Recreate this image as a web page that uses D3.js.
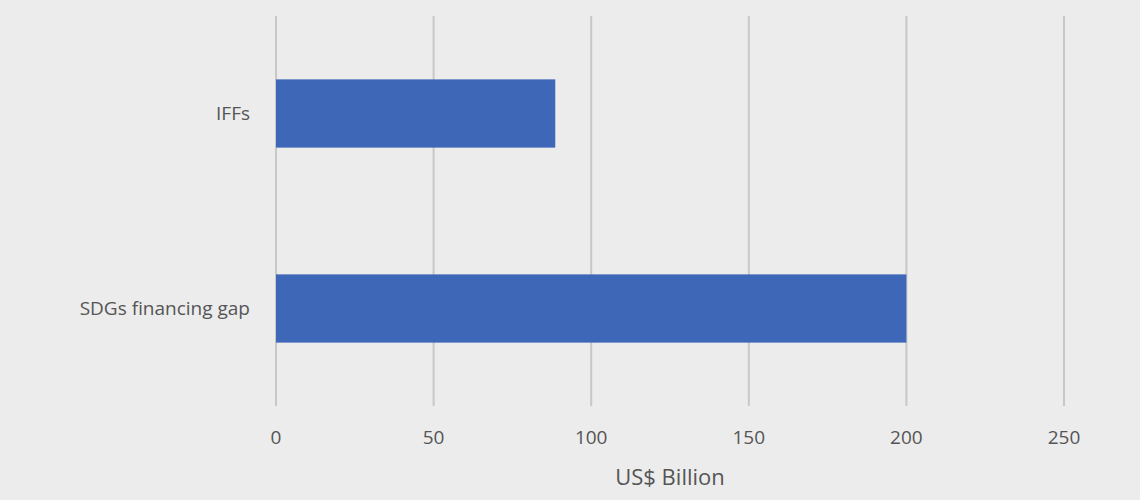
<!DOCTYPE html>
<html><head><meta charset="utf-8">
<script src="https://cdn.jsdelivr.net/npm/d3@7"></script>
<style>body{margin:0;background:#ececec;}</style>
</head><body>
<svg id="c" width="1140" height="500"></svg>
<script>
const categories = ["IFFs", "SDGs financing gap"];
const values = [88.6, 200];
const ticks = [0, 50, 100, 150, 200, 250];

const svg = d3.select("#c");
svg.append("rect").attr("width",1140).attr("height",500).attr("fill","#ececec");
const x = d3.scaleLinear().domain([0,250]).range([276,1064]);
const y = d3.scaleBand().domain(categories).range([16,406]).paddingInner(0.65).paddingOuter(0.325);

svg.append("g").selectAll("line").data(ticks).join("line")
  .attr("x1",d=>x(d)).attr("x2",d=>x(d)).attr("y1",16).attr("y2",406)
  .attr("stroke","#c8c8c8").attr("stroke-width",2);

svg.append("g").selectAll("rect").data(categories).join("rect")
  .attr("x",x(0)).attr("y",d=>y(d)).attr("height",y.bandwidth())
  .attr("width",(d,i)=>x(values[i])-x(0)).attr("fill","#3e67b8");

svg.append("g").selectAll("text").data(categories).join("text")
  .attr("x",250).attr("y",d=>y(d)+y.bandwidth()/2).attr("dy","0.35em")
  .attr("text-anchor","end").attr("font-family","Open Sans, sans-serif")
  .attr("font-size",19).attr("fill","#555").text(d=>d);

svg.append("g").selectAll("text").data(ticks).join("text")
  .attr("x",d=>x(d)).attr("y",444).attr("text-anchor","middle")
  .attr("font-family","Open Sans, sans-serif").attr("font-size",19).attr("fill","#555").text(d=>d);

svg.append("text").attr("x",670).attr("y",485).attr("text-anchor","middle")
  .attr("font-family","Open Sans, sans-serif").attr("font-size",22).attr("fill","#555").text("US$ Billion");
</script>
</body></html>
